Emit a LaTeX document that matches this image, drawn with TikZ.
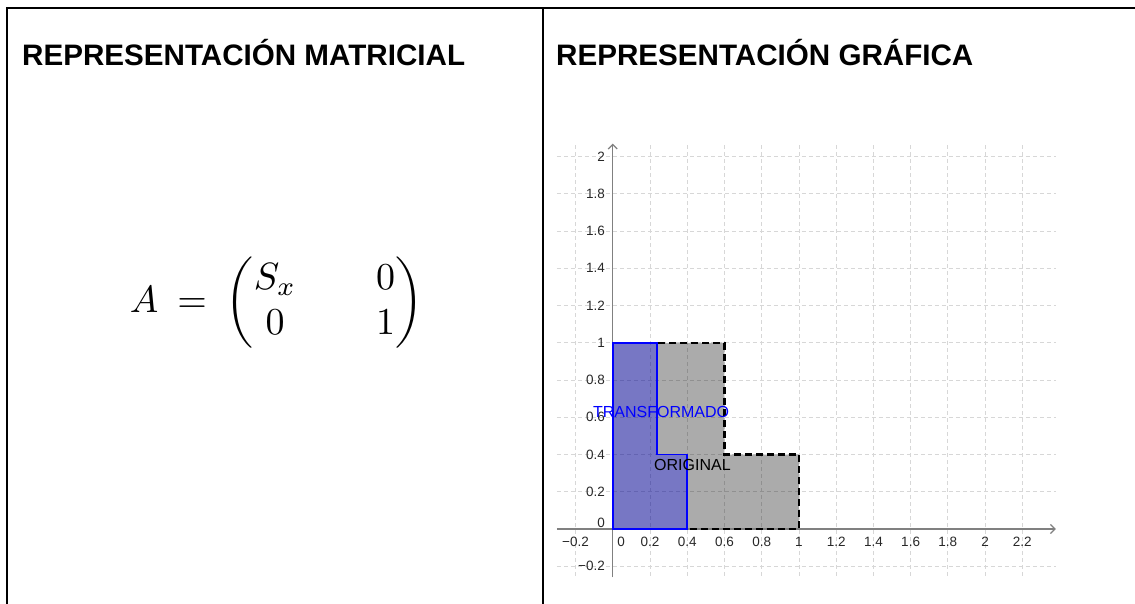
\documentclass[tikz,border=0pt]{standalone}
\usepackage{amsmath}
\usepackage[no-math]{fontspec}
\newfontfamily\arialfont{Liberation Sans}
\usetikzlibrary{arrows.meta}
\definecolor{ejegris}{RGB}{128,128,128}
\definecolor{rejillagris}{RGB}{215,215,215}
\definecolor{textogris}{RGB}{40,40,40}

\begin{document}
\begin{tikzpicture}[x=1pt, y=-1pt, line join=miter,
    celda/.style={line width=2pt},
    titulo/.style={font=\arialfont\bfseries\fontsize{29.6}{31}\selectfont, anchor=base west, inner sep=0pt},
    rejilla/.style={draw=rejillagris, line width=0.8pt, dash pattern=on 4pt off 3pt},
    eje/.style={draw=ejegris, line width=1.3pt, -{Straight Barb[length=4.5pt,width=9pt]}},
    etiq/.style={font=\arialfont\fontsize{13.5}{14}\selectfont, text=textogris, inner sep=0pt},
    rotulo/.style={font=\arialfont\fontsize{16}{17}\selectfont, inner sep=0pt, anchor=west}]
    \useasboundingbox (0,0) rectangle (1135,604);

    % tabla
    \draw[celda] (7,604) -- (7,7.7) -- (1135,7.7);
    \draw[celda] (542.7,7.7) -- (542.7,604);

    \node[titulo] (tit1) at (22,66) {REPRESENTACIÓN MATRICIAL};
    \node[titulo] (tit2) at (556,66) {REPRESENTACIÓN GRÁFICA};

    \node[anchor=west, inner sep=0pt, scale=3.8] (matA) at (129,303)
        {$\setlength{\arraycolsep}{10.5pt}A\mskip4mu =\mskip4mu \begin{pmatrix} S_x & 0\\ 0 & 1\end{pmatrix}$};

    % grafica
    \begin{scope}[shift={(612.7pt,-529pt)}, x=186.2pt, y=186.2pt]
        \coordinate (O) at (0,0);
        \coordinate (P1) at (1,0);
        \coordinate (P2) at (1,0.4);
        \coordinate (P3) at (0.6,0.4);
        \coordinate (P4) at (0.6,1);
        \coordinate (P5) at (0,1);
        \coordinate (Q1) at (0.4,0);
        \coordinate (Q2) at (0.4,0.4);
        \coordinate (Q3) at (0.24,0.4);
        \coordinate (Q4) at (0.24,1);

        \foreach \i in {-1,1,2,...,11}
            \draw[rejilla] ({0.2*\i},-0.25) -- ({0.2*\i},2.07);
        \foreach \j in {-1,1,2,...,10}
            \draw[rejilla] (-0.3,{0.2*\j}) -- (2.38,{0.2*\j});

        \fill[black, opacity=0.33] (O) -- (P1) -- (P2) -- (P3) -- (P4) -- (P5) -- cycle;
        \fill[blue, opacity=0.3] (O) -- (Q1) -- (Q2) -- (Q3) -- (Q4) -- (P5) -- cycle;

        \draw[eje] (-0.3,0) -- (2.38,0);
        \draw[eje] (0,-0.26) -- (0,2.07);

        \draw[line width=2.2pt, dash pattern=on 7pt off 4pt] (O) -- (P1) -- (P2) -- (P3) -- (P4) -- (P5) -- cycle;
        \draw[blue, line width=1.8pt] (O) -- (Q1) -- (Q2) -- (Q3) -- (Q4) -- (P5) -- cycle;

        \foreach \v [count=\k] in {0.2,0.4,0.6,0.8,1,1.2,1.4,1.6,1.8,2,2.2}
            \node[etiq] (ex\k) at (\v,-0.07) {\v};
        \node[etiq] (exm) at (-0.2,-0.07) {−0.2};
        \node[etiq] (ex0) at (0.045,-0.07) {0};
        \foreach \v [count=\k] in {0.2,0.4,0.6,0.8,1,1.2,1.4,1.6,1.8,2}
            \node[etiq, anchor=east] (ey\k) at (-0.041,\v) {\v};
        \node[etiq, anchor=east] (eym) at (-0.041,-0.2) {−0.2};
        \node[etiq, anchor=east] (ey0) at (-0.041,0.035) {0};

        \node[rotulo, text=blue] (transf) at (-0.106,0.63) {TRANSFORMADO};
        \node[rotulo, text=black] (orig) at (0.222,0.344) {ORIGINAL};
    \end{scope}
\end{tikzpicture}
\end{document}
